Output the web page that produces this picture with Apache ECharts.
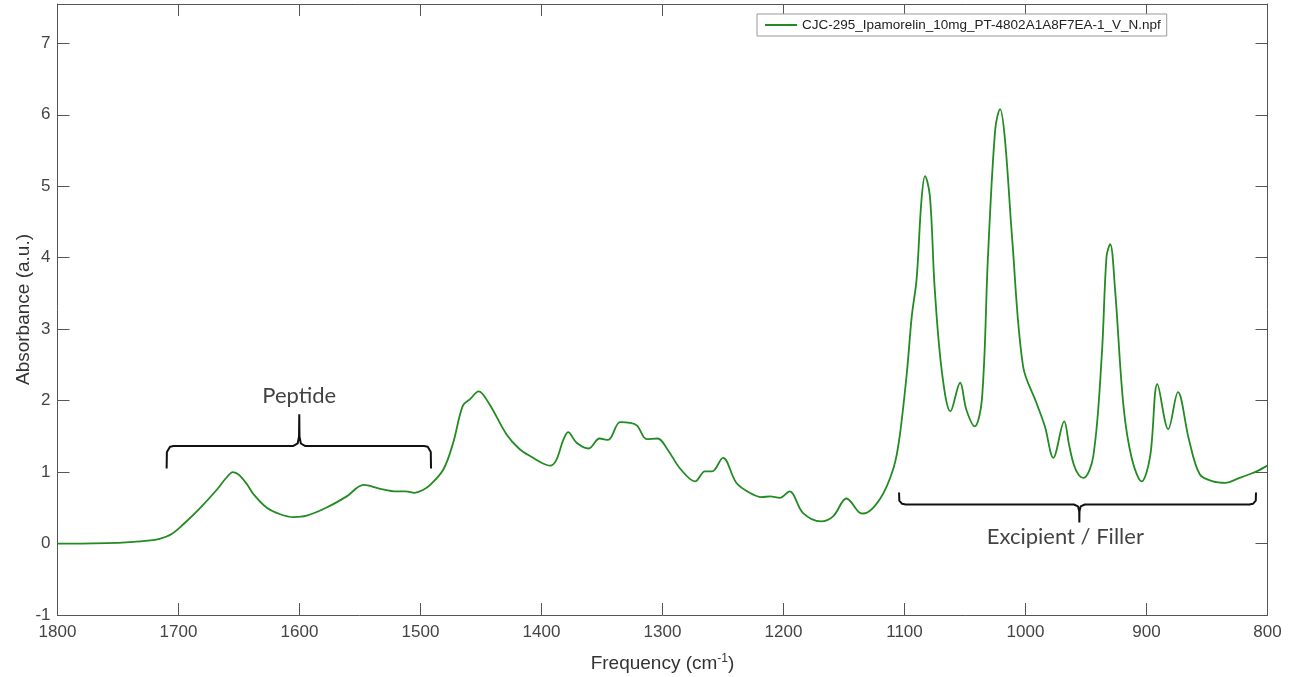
<!DOCTYPE html>
<html>
<head>
<meta charset="utf-8">
<script src="https://cdn.jsdelivr.net/npm/echarts@6/dist/echarts.min.js"></script>
<style>
html,body{margin:0;padding:0;background:#fff;}
#chart{width:1293px;height:677px;}
</style>
</head>
<body>
<div id="chart"></div>
<script>
// Spectrum: frequency (cm-1) and absorbance (a.u.)
const seriesName = 'CJC-295_Ipamorelin_10mg_PT-4802A1A8F7EA-1_V_N.npf';
const frequency = [
  1800,1780,1760,1740,1725,1715,1706,1696,1682,1668,1661,1655,1650,1643,1638,1627,1616,1605,1594,1578,1561,
  1547,1534,1520,1512,1505,1498,1492,1481,1473,1465,1459,1452,1443,1429,1418,1407,1400,1393,1388,1382,
  1378,1371,1361,1352,1345,1335,1327,1321,1313,1304,1296,1285,1273,1265,1259,1250,1239,1228,1218,1211,
  1203,1195,1184,1169,1159,1148,1137,1134,1120,1109,1104,1098,1094,1090,1086,1083,1079,1075,1069,1062,
  1054,1049,1042,1036,1031,1025,1021,1017,1011,1002,991,984,977,968,964,960,956,952,944,937,933,930,
  926,919,912,904,897,891,882,874,865,856,845,835,823,815,809,800
];
const absorbance = [
  0.00,0.00,0.005,0.02,0.04,0.07,0.13,0.27,0.50,0.76,0.91,1.00,0.96,0.82,0.69,0.50,0.41,0.37,0.39,0.50,0.66,
  0.82,0.77,0.73,0.73,0.71,0.75,0.82,1.04,1.41,1.93,2.02,2.13,1.95,1.53,1.32,1.20,1.13,1.09,1.16,1.45,
  1.56,1.41,1.33,1.47,1.45,1.70,1.69,1.65,1.46,1.47,1.32,1.04,0.87,1.01,1.01,1.20,0.85,0.71,0.65,0.66,
  0.64,0.73,0.43,0.31,0.38,0.63,0.43,0.42,0.63,1.06,1.50,2.40,3.18,3.70,4.80,5.14,4.86,3.56,2.39,1.85,
  2.25,1.88,1.64,2.02,4.02,5.80,6.08,5.66,4.26,2.48,1.97,1.64,1.20,1.71,1.38,1.10,0.96,0.92,1.22,2.62,4.02,4.19,
  3.56,1.92,1.18,0.87,1.22,2.23,1.60,2.12,1.46,0.97,0.87,0.85,0.92,0.97,1.01,1.09
];

// Axis ticks
const xTicks = {min: 800, max: 1800, interval: 100};
const yTicks = {min: -1, max: 7.55, interval: 1};

// Annotation braces (frequency, absorbance)
const peptideBrace = [
  [1709.8,1.05],[1709.6,1.28],[1707,1.355],[1704,1.366],[1605,1.366],[1601.5,1.40],[1600.4,1.5],[1600.2,1.81],
  [1600.0,1.5],[1598.9,1.40],[1595.5,1.366],[1497,1.366],[1494,1.355],[1491.5,1.28],[1491.3,1.05]
];
const excipientBrace = [
  [1104.5,0.714],[1104.3,0.60],[1102,0.556],[1099,0.546],[960,0.546],[956.6,0.52],[955.6,0.45],[955.5,0.294],
  [955.4,0.45],[954.4,0.52],[951,0.546],[815,0.546],[812,0.556],[809.7,0.60],[809.5,0.714]
];
const annotationNames = ['Peptide', 'Excipient / Filler'];
const annotationPoints = [[1600.2,1.81],[955.5,0.294]];

const spectrum = frequency.map((f, i) => [f, absorbance[i]]);

const axisColor = '#555';
const labelColor = '#444';
const font = "'Liberation Sans', Arial, Helvetica, sans-serif";

const chart = echarts.init(document.getElementById('chart'), null, {renderer: 'canvas'});

const baseX = {
  type: 'value', min: xTicks.min, max: xTicks.max, interval: xTicks.interval, inverse: true,
  axisLine: {show: true, onZero: false, lineStyle: {color: axisColor, width: 1}},
  axisTick: {show: true, inside: true, length: 12, lineStyle: {color: axisColor}},
  splitLine: {show: false}
};
const baseY = {
  type: 'value', min: yTicks.min, max: yTicks.max, interval: yTicks.interval,
  axisLine: {show: true, onZero: false, lineStyle: {color: axisColor, width: 1}},
  axisTick: {show: true, inside: true, length: 12, lineStyle: {color: axisColor}},
  splitLine: {show: false}
};

chart.setOption({
  animation: false,
  backgroundColor: '#fff',
  textStyle: {fontFamily: font},
  grid: {left: 57.5, right: 25.5, top: 4, bottom: 62, containLabel: false, outerBoundsMode: 'none'},
  legend: {
    show: true,
    data: [seriesName],
    left: 757, top: 14,
    padding: [4, 6, 4, 8],
    itemWidth: 32, itemHeight: 2, itemGap: 5,
    icon: 'rect',
    borderColor: '#999', borderWidth: 1,
    backgroundColor: '#fff',
    textStyle: {fontFamily: font, fontSize: 13.5, color: '#222'}
  },
  xAxis: [
    Object.assign({}, baseX, {
      position: 'bottom',
      axisLabel: {show: true, color: labelColor, fontSize: 17, fontFamily: font, margin: 9,
        formatter: v => (v % 100 === 0 ? String(v) : '')},
      name: 'Frequency (cm{sup|-1})',
      nameLocation: 'middle', nameGap: 38,
      nameTextStyle: {color: '#333', fontSize: 19, fontFamily: font,
        rich: {sup: {fontSize: 12, verticalAlign: 'top', color: '#333', fontFamily: font, padding: [0,0,10,0]}}}
    }),
    Object.assign({}, baseX, {position: 'top', axisLabel: {show: false}})
  ],
  yAxis: [
    Object.assign({}, baseY, {
      position: 'left',
      axisLabel: {show: true, color: labelColor, fontSize: 17, fontFamily: font, margin: 7, showMaxLabel: false,
        formatter: v => (Number.isInteger(v) ? String(v) : '')},
      name: 'Absorbance (a.u.)',
      nameLocation: 'middle', nameGap: 24, nameMoveOverlap: false,
      nameTextStyle: {color: '#333', fontSize: 19, fontFamily: font}
    }),
    Object.assign({}, baseY, {position: 'right', axisLabel: {show: false}})
  ],
  series: [
    {
      name: seriesName, type: 'line', data: spectrum,
      xAxisIndex: 0, yAxisIndex: 0,
      smooth: 0.35, showSymbol: false, symbol: 'none',
      lineStyle: {color: '#228B22', width: 1.8},
      itemStyle: {color: '#228B22'},
      z: 3
    },
    {
      name: 'peptideBrace', type: 'line', data: peptideBrace,
      smooth: false, showSymbol: false, symbol: 'none',
      lineStyle: {color: '#111', width: 2}, z: 4, silent: true
    },
    {
      name: 'excipientBrace', type: 'line', data: excipientBrace,
      smooth: false, showSymbol: false, symbol: 'none',
      lineStyle: {color: '#111', width: 2}, z: 4, silent: true
    },
    {
      name: 'annotations', type: 'scatter',
      symbolSize: 1, itemStyle: {color: 'rgba(0,0,0,0)'},
      silent: true, z: 5,
      data: [
        {value: annotationPoints[0], label: {show: true, position: 'top', distance: 7,
          formatter: annotationNames[0], color: '#111', fontSize: 22, fontFamily: "Lato, 'Liberation Sans', sans-serif"}},
        {value: annotationPoints[1], label: {show: true, position: 'bottom', distance: 3, offset: [-14, 0],
          formatter: annotationNames[1], color: '#111', fontSize: 22, fontFamily: "Lato, 'Liberation Sans', sans-serif"}}
      ]
    }
  ]
});
</script>
</body>
</html>
